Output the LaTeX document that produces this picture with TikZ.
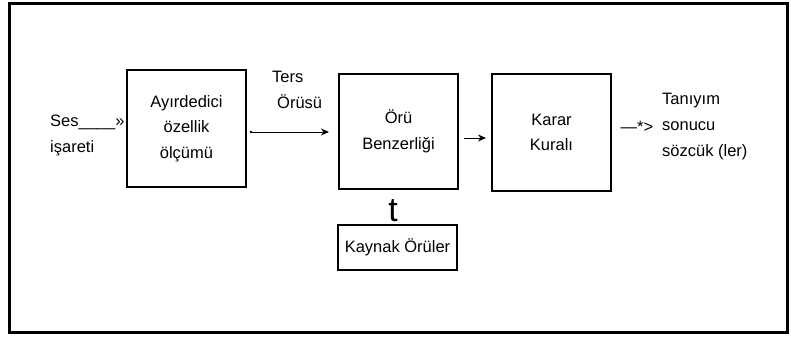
\documentclass[tikz,border=0pt]{standalone}
\usepackage{fontspec}
\setmainfont{Liberation Sans}
\usetikzlibrary{arrows.meta}
\begin{document}
\begin{tikzpicture}[x=1pt,y=-1pt,
  box/.style={draw, line width=2pt, inner sep=0pt, align=center,
    font=\fontsize{16.5}{25.5}\selectfont},
  lbl/.style={inner sep=0pt, font=\fontsize{16.5}{26}\selectfont},
  arr/.style={line width=1pt, -{Stealth[length=8pt,width=7pt]}}]
\useasboundingbox (0,0) rectangle (791,340);
\draw[line width=3pt] (9,3) rectangle (787,332);
\node[box, minimum width=119pt, minimum height=117pt] (b1) at (186.5,128.5) {Ayırdedici\\özellik\\ölçümü};
\node[box, minimum width=119pt, minimum height=115pt] (b2) at (398.5,131.5) {Örü\\Benzerliği};
\node[box, minimum width=119pt, minimum height=117pt] (b3) at (551.5,132.5) {Karar\\Kuralı};
\node[box, minimum width=119pt, minimum height=45pt] (b4) at (397.5,247.5) {Kaynak Örüler};
\node[lbl, anchor=west, align=left] (ses) at (50,135) {Ses\_\_\_\_»\\işareti};
\node[lbl, anchor=west] (ters) at (272,77) {Ters};
\node[lbl, anchor=west] (orusu) at (277,102) {Örüsü};
\node[lbl] (star) at (637,127) {—*>};
\node[lbl, anchor=west, align=left] (out) at (662,127) {Tanıyım\\sonucu\\sözcük (ler)};
\node[inner sep=0pt, font=\fontsize{34}{34}\selectfont] (t) at (393,211) {t};
\coordinate (a1) at ([yshift=-3.5pt]b1.east);
\coordinate (a2) at ([yshift=-6.5pt]b2.east);
\fill ([xshift=4pt]a1) circle (1.3pt);
\draw[arr, shorten <=4pt, shorten >=9pt] (a1) -- (a1 -| b2.west);
\draw[arr, shorten <=5pt, shorten >=5pt] (a2) -- (a2 -| b3.west);
\end{tikzpicture}
\end{document}
